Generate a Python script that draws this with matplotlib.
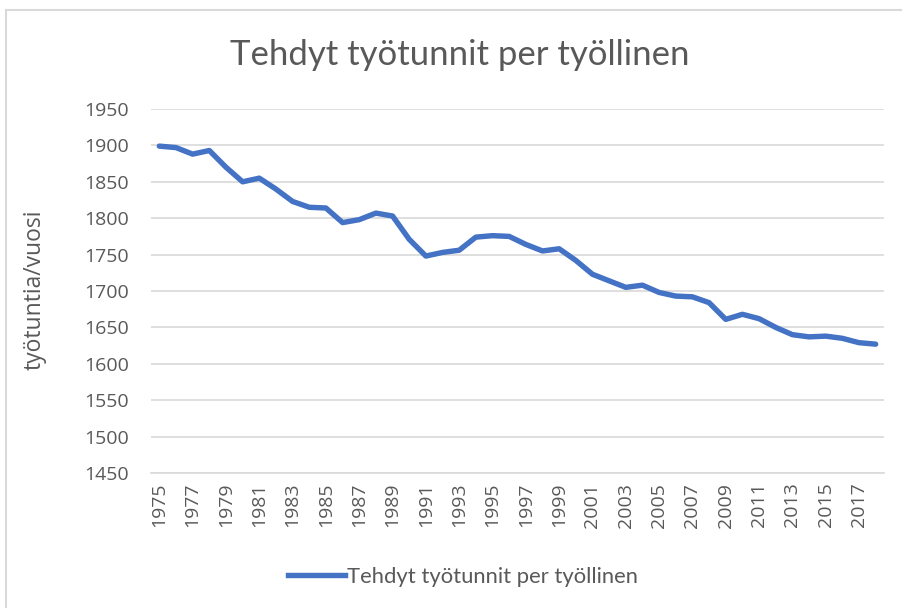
import matplotlib
matplotlib.use("Agg")
import matplotlib.pyplot as plt
from matplotlib.lines import Line2D

years = list(range(1975, 2019))
hours = [1899, 1897, 1888, 1893, 1870, 1850, 1855, 1840, 1823, 1815,
         1814, 1794, 1798, 1807, 1803, 1771, 1748, 1753, 1756, 1774,
         1776, 1775, 1764, 1755, 1758, 1742, 1723, 1714, 1705, 1708,
         1698, 1693, 1692, 1684, 1661, 1668, 1662, 1650, 1640, 1637,
         1638, 1635, 1629, 1627]
y_ticks = list(range(1450, 1951, 50))
x_tick_labels = [str(y) for y in years[::2]]

title = "Tehdyt työtunnit per työllinen"
series_name = "Tehdyt työtunnit per työllinen"
ylabel = "työtuntia/vuosi"

W, H = 903, 608
fig = plt.figure(figsize=(W / 100, H / 100), dpi=100)
txt = "#595959"
font = ["Lato", "DejaVu Sans"]
tfont = ["Open Sans", "DejaVu Sans"]

# chart border (left and top visible)
fig.add_artist(Line2D([6 / W, 6 / W], [0, 1 - 10 / H], color="#d9d9d9", lw=1.5, transform=fig.transFigure))
fig.add_artist(Line2D([6 / W, 1], [1 - 10 / H, 1 - 10 / H], color="#d9d9d9", lw=1.5, transform=fig.transFigure))

left, right, top, bottom = 151, 884, 109, 473
ax = fig.add_axes([left / W, 1 - bottom / H, (right - left) / W, (bottom - top) / H])

x = list(range(len(years)))
ax.plot(x, hours, color="#4472C4", lw=3.9, solid_capstyle="round", solid_joinstyle="round", label=series_name)

ax.set_xlim(-0.5, len(years) - 0.5)
ax.set_ylim(1450, 1950)
ax.set_yticks(y_ticks)
ax.set_yticklabels([str(v) for v in y_ticks], fontsize=14, color=txt, family=tfont)
ax.set_xticks(x[::2])
ax.set_xticklabels(x_tick_labels, rotation=90, fontsize=14, color=txt, family=tfont)
ax.tick_params(length=0)
ax.tick_params(axis="y", pad=16)
ax.tick_params(axis="x", pad=7)
ax.grid(axis="y", color="#d9d9d9", lw=1.2)
ax.set_axisbelow(True)
for s in ["top", "right", "left"]:
    ax.spines[s].set_visible(False)
ax.spines["bottom"].set_color("#d9d9d9")
ax.spines["bottom"].set_linewidth(1.2)

fig.text(35 / W, 1 - 290 / H, ylabel, rotation=90, ha="center", va="center", fontsize=16.5, color=txt, family=tfont)
fig.text(460 / W, 1 - 55 / H, title, ha="center", va="center", fontsize=25, color=txt, family=font)

leg = fig.legend(handles=[Line2D([], [], color="#4472C4", lw=3.9)], labels=[series_name],
                 loc="center", bbox_to_anchor=(463 / W, 1 - 577 / H), frameon=False,
                 prop={"family": font, "size": 15.8}, handlelength=2.6, handletextpad=0.1)
for t in leg.get_texts():
    t.set_color(txt)

fig.savefig("out.png", dpi=100, facecolor="white")
